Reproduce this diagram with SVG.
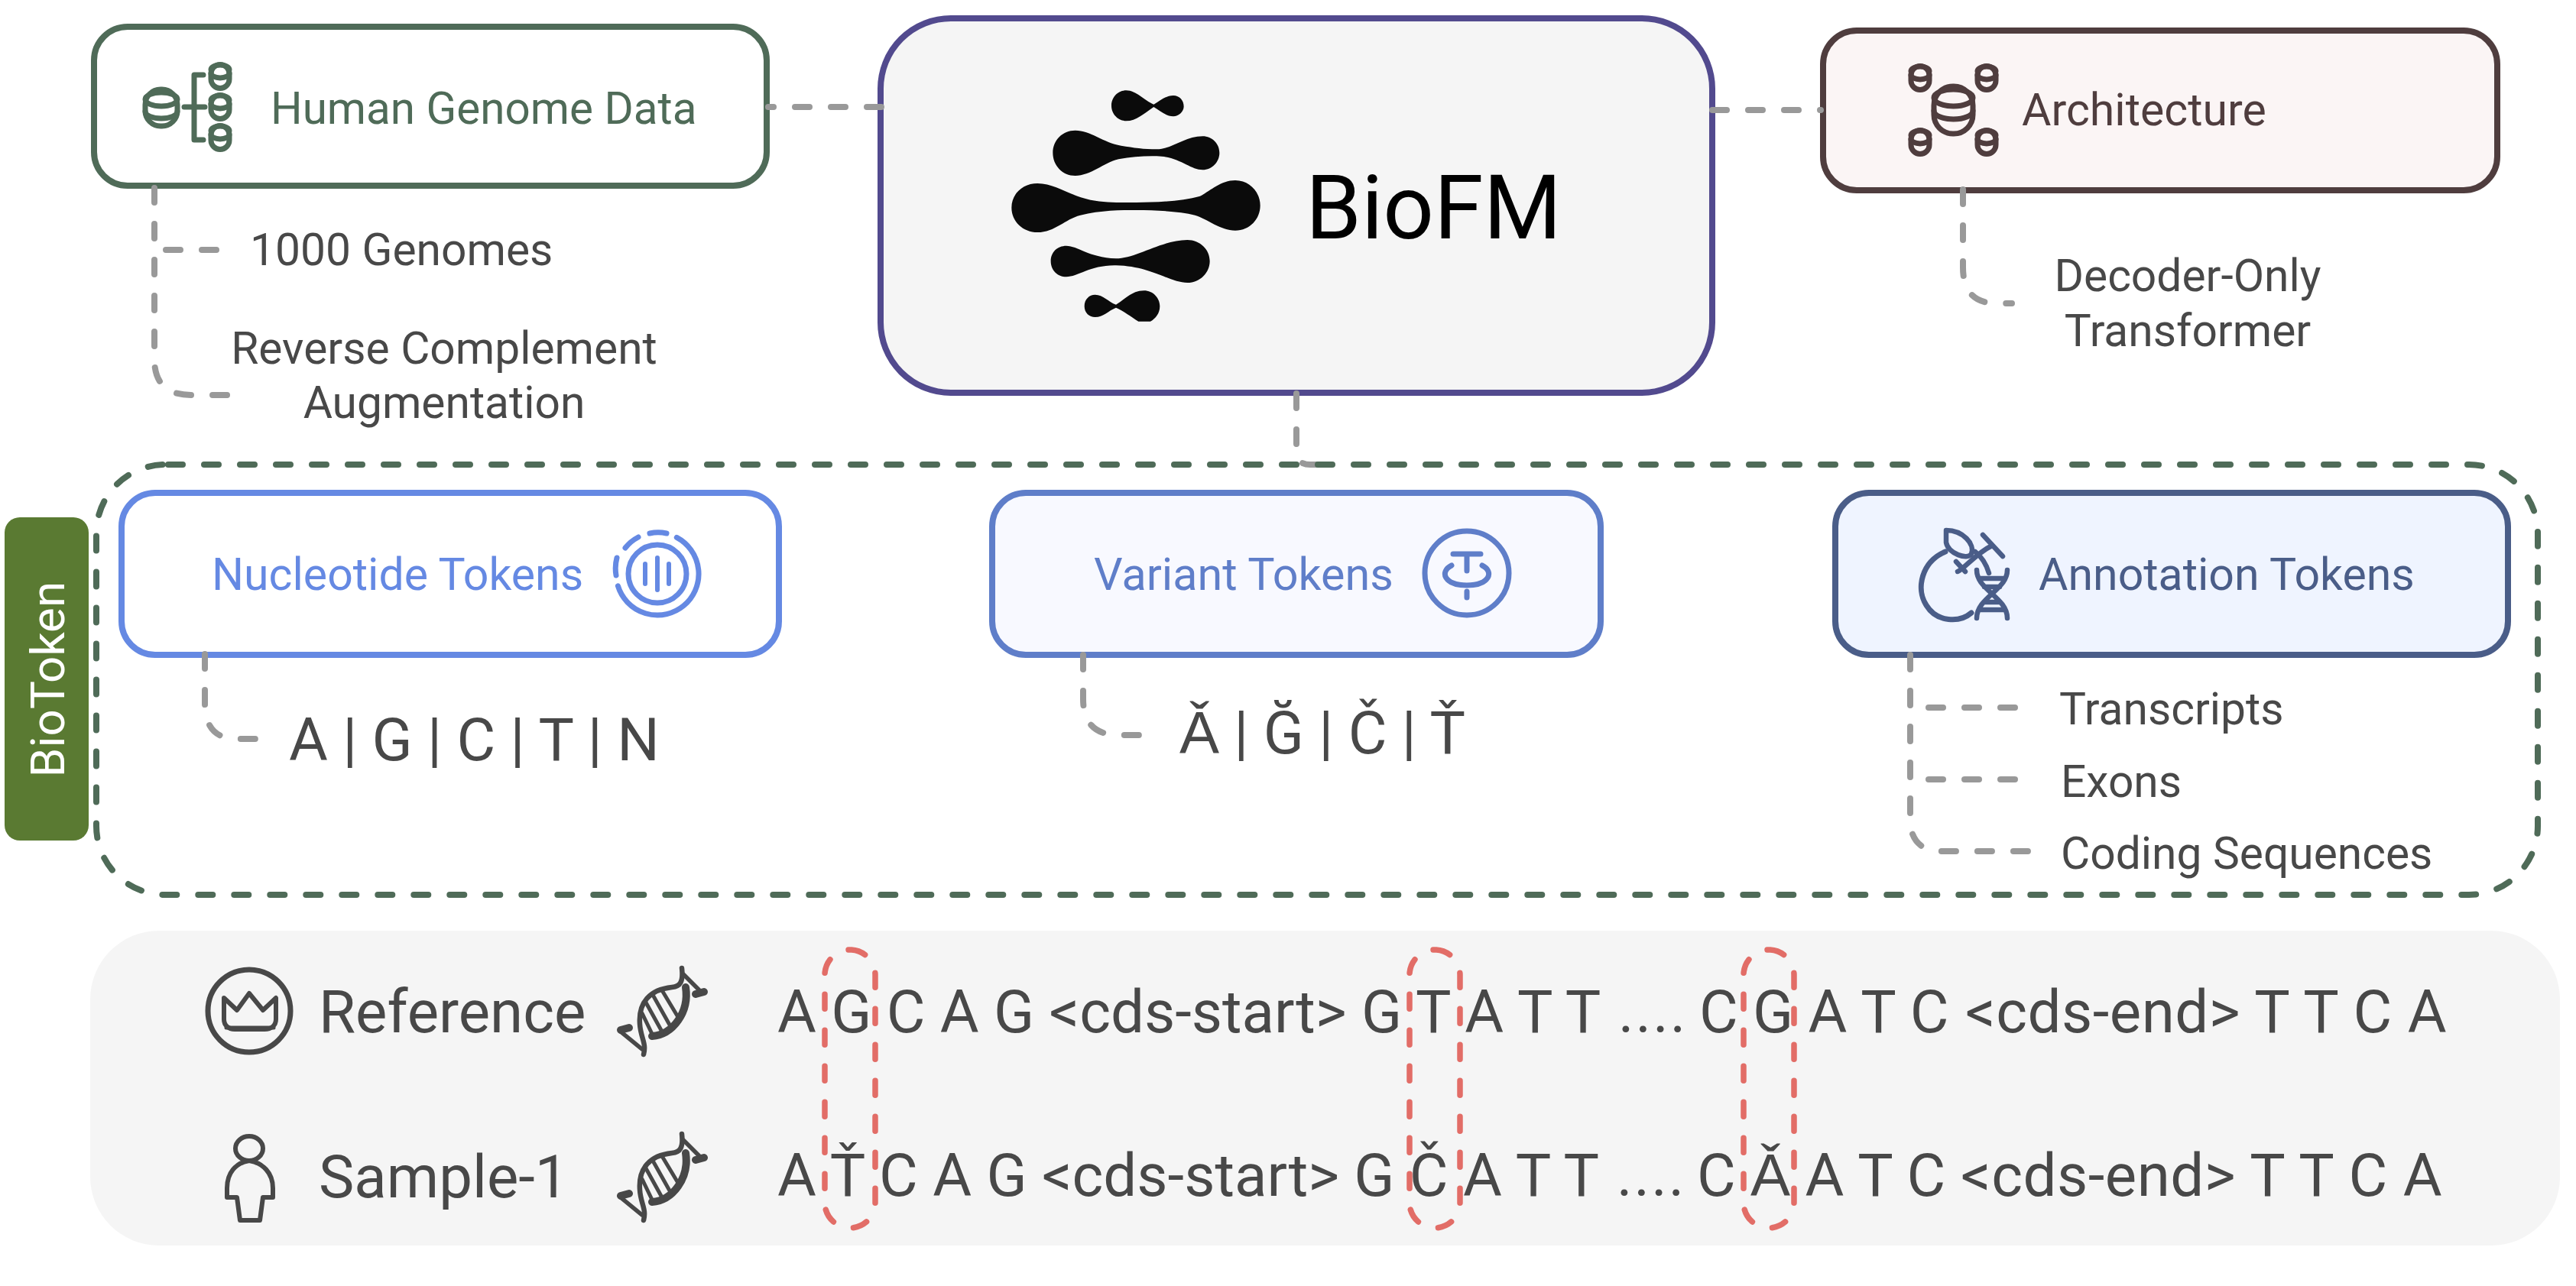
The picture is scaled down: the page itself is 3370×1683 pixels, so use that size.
<svg xmlns="http://www.w3.org/2000/svg" width="3370" height="1683" viewBox="0 0 3370 1683">
<style>
text{font-family:Roboto,"Liberation Sans",sans-serif;fill:#484848}
.t59{font-size:59px}.t587{font-size:58.7px}.t78{font-size:78px}
.box{stroke-width:8}
.dash{fill:none;stroke:#999;stroke-width:8;stroke-dasharray:19 28;stroke-linecap:round}
.gdash{fill:none;stroke:#4f6b58;stroke-width:8;stroke-dasharray:19 28;stroke-linecap:round}
.rdash{fill:none;stroke:#e26d67;stroke-width:7.5;stroke-dasharray:19 28;stroke-linecap:round}
.ic{fill:none;stroke-width:7;stroke-linecap:round;stroke-linejoin:round}
.ink{stroke:#484848}
</style>
<defs>
<g id="cyls"><rect x="-12" y="-15.5" width="24" height="31" rx="12"/><path d="M-12 -4A12 6 0 0 0 12 -4M-12 -9A12 6 0 0 1 12 -9"/></g>
<g id="dna" class="ic ink">
<path d="M892 1267C894 1285 890 1291 879 1292C850 1295 835 1312 837 1340C838 1358 846 1365 842 1380" style="stroke-width:6.5"/>
<path d="M897 1292C902 1325 880 1354 853 1356" style="stroke-width:10"/>
<path d="M894 1275L918 1299M812 1350L840 1373" style="stroke-width:5.5"/>
<path d="M910 1301L921 1298M812 1348L823 1345" style="stroke-width:10"/>
<path d="M866 1296L887 1331M854 1302L877 1343M845 1312L866 1350M840 1326L853 1353" style="stroke-width:5"/>
</g>
</defs>

<g id="node-human-genome">
<rect class="box" x="123" y="35" width="880" height="208" rx="44" fill="#fff" stroke="#4f6b58"/>
<g class="ic" stroke="#4f6b58">
<rect x="190" y="117" width="42" height="48" rx="20"/>
<path d="M190 130A21 9 0 0 0 232 130M190 146A21 9 0 0 0 232 146M190 130A21 9 0 0 1 232 130"/>
<path d="M266 98H254V183H266M241 140H268"/>
<use href="#cyls" x="288" y="100"/><use href="#cyls" x="288" y="140"/><use href="#cyls" x="288" y="180"/>
</g>
<text x="354" y="162" font-size="58.4" style="fill:#4f6b58">Human Genome Data</text>
<text class="t587" x="327" y="347">1000 Genomes</text>
<text class="t587" x="581" y="476" text-anchor="middle">Reverse Complement</text>
<text class="t587" x="581" y="547" text-anchor="middle">Augmentation</text>
</g>

<g id="node-biofm">
<rect class="box" x="1152" y="24" width="1088" height="490" rx="92" fill="#f5f5f5" stroke="#524a8e"/>
<g transform="translate(1280 90) scale(.33333)" fill="#0b0b0b">
<path d="M522 145C522 110 550 85 580 85C620 85 650 125 688 140C715 125 735 105 765 105C790 105 806 125 806 148C806 170 785 187 765 187C735 187 715 165 688 150C650 175 620 205 580 205C550 205 522 180 522 145Z"/>
<path d="M292 330C292 280 330 242 380 242C440 242 490 290 560 302C610 310 650 316 700 316C760 316 810 265 880 265C918 265 946 295 946 330C946 365 918 397 880 397C830 397 790 345 700 343C650 342 600 345 550 355C490 370 440 420 380 420C330 420 292 380 292 330Z"/>
<path d="M130 545C130 490 175 450 232 450C300 450 350 495 440 515C500 527 560 525 620 525C700 525 800 520 870 500C910 480 950 438 1008 438C1065 438 1106 485 1106 537C1106 590 1065 635 1008 635C950 635 900 590 850 575C790 560 700 555 620 555C560 555 480 555 400 575C340 590 300 642 232 642C175 642 130 600 130 545Z"/>
<path d="M284 755C284 720 310 695 345 695C390 695 430 740 540 745C620 745 720 672 820 672C870 672 908 710 908 755C908 800 870 840 820 840C750 840 680 775 540 772C440 770 390 817 345 817C310 817 284 790 284 755Z"/>
<path d="M416 932C416 905 435 887 458 887C490 887 510 915 540 926C570 910 600 871 650 871C685 871 712 900 712 932C712 960 695 980 675 992L628 992C600 975 570 950 540 938C510 950 490 975 458 975C435 975 416 958 416 932Z"/>
</g>
<text x="1708" y="312" font-size="117" style="fill:#000">BioFM</text>
</g>

<g id="node-architecture">
<rect class="box" x="2385" y="40" width="882" height="209" rx="44" fill="#fbf5f5" stroke="#4f3d3e"/>
<g class="ic" stroke="#4f3d3e">
<rect x="2530" y="113" width="51" height="62" rx="25"/>
<path d="M2530 128A25.500 11 0 0 0 2581 128M2530 145A25.500 11 0 0 0 2581 145M2530 128A25.500 11 0 0 1 2581 128"/>
<use href="#cyls" x="2512" y="102"/><use href="#cyls" x="2599" y="102"/><use href="#cyls" x="2512" y="186"/><use href="#cyls" x="2599" y="186"/>
</g>
<text class="t59" x="2645" y="164" style="fill:#4f3d3e">Architecture</text>
<text class="t587" x="2862" y="381" text-anchor="middle">Decoder-Only</text>
<text class="t587" x="2862" y="453" text-anchor="middle">Transformer</text>
</g>

<g id="node-biotoken-label">
<rect x="6" y="677" width="110" height="423" rx="20" fill="#5a7a32"/>
<text x="0" y="0" font-size="62" text-anchor="middle" transform="translate(84 889) rotate(-90)" style="fill:#fff">BioToken</text>
</g>

<g id="node-nucleotide">
<rect class="box" x="159" y="645" width="860" height="212" rx="44" fill="#fff" stroke="#6589e3"/>
<text class="t59" x="277" y="772" style="fill:#6589e3">Nucleotide Tokens</text>
<g class="ic" stroke="#6589e3">
<circle cx="860" cy="751" r="38"/>
<path d="M808.400 766.800A54 54 0 1 0 885.300 703.300M818 717A54 54 0 0 1 835 703M807 730A54 54 0 0 0 806 753M850 698A54 54 0 0 1 872 698"/>
<path d="M860 730V772M844 738V764M875 738V764" style="stroke-width:6"/>
</g>
<text class="t78" x="378" y="995">A | G | C | T | N</text>
</g>

<g id="node-variant">
<rect class="box" x="1298" y="645" width="796" height="212" rx="44" fill="#f8f9ff" stroke="#5f7ec9"/>
<text x="1431" y="772" font-size="59.300" style="fill:#5f7ec9">Variant Tokens</text>
<g class="ic" stroke="#5f7ec9" transform="translate(1919 750)">
<circle r="55"/>
<path d="M-18 -25H18M0 -25V-3M-20 -10C-36 -2 -30 16 0 16C30 16 36 -2 20 -10M0 24V32"/>
</g>
<text class="t78" x="1543" y="986">Ǎ | Ğ | Č | Ť</text>
</g>

<g id="node-annotation">
<rect class="box" x="2401" y="645" width="880" height="212" rx="44" fill="#eff4ff" stroke="#4a5d88"/>
<text class="t59" x="2667" y="772" style="fill:#4a5d88">Annotation Tokens</text>
<g class="ic" stroke="#4a5d88" transform="translate(-6 0)">
<path d="M2551 722C2520 735 2512 770 2526 792C2540 815 2570 815 2585 802"/>
<path d="M2552 694C2574 694 2590 712 2585 725C2580 733 2555 725 2552 710Z" style="stroke-width:6.500"/>
<path d="M2600 700L2626 728M2612 714C2590 725 2575 745 2567 748M2590 722C2600 730 2605 740 2608 750M2565 735L2577 748" style="stroke-width:6.500"/>
<path d="M2592 746C2592 772 2632 782 2632 809M2632 746C2632 772 2592 782 2592 809M2596 757H2628M2602 768H2622M2602 788H2622M2596 798H2628" style="stroke-width:6.500"/>
</g>
<text class="t587" x="2694" y="948">Transcripts</text>
<text class="t587" x="2696" y="1043">Exons</text>
<text class="t587" x="2696" y="1137">Coding Sequences</text>
</g>

<g id="node-sequences">
<rect x="118" y="1218" width="3231" height="412" rx="90" fill="#f5f5f5"/>
<g id="icon-crown" class="ic ink">
<circle cx="326" cy="1323" r="54"/>
<path d="M293 1306L310 1322L326 1300L344 1322L361 1306V1334C361 1342 355 1347 346 1347H307C299 1347 293 1342 293 1334Z" style="stroke-width:6"/>
<path d="M296 1345H358" style="stroke-width:5"/>
</g>
<text class="t78" x="417" y="1351">Reference</text>
<use href="#dna"/>
<text class="t78" x="1017" y="1351">A G C A G &lt;cds-start&gt; G T A T T <tspan x="2117" letter-spacing="2">....</tspan> <tspan x="2223">C G A T C</tspan> <tspan x="2571" letter-spacing=".5">&lt;cds-end&gt; T T C A</tspan></text>
<g id="icon-person" class="ic ink">
<ellipse cx="326" cy="1503" rx="18" ry="16" style="stroke-width:6"/>
<path d="M326 1519C308 1522 297 1535 297 1555V1567H310L314 1597H340L344 1567H357V1555C357 1535 344 1522 326 1519Z" style="stroke-width:6"/>
</g>
<text class="t78" x="417" y="1567">Sample-1</text>
<use href="#dna" y="217"/>
<text class="t78" x="1017" y="1565">A Ť C A G &lt;cds-start&gt; G Č A T T <tspan x="2115" letter-spacing="2">....</tspan> <tspan x="2220">C Ǎ A T C</tspan> <tspan x="2565" letter-spacing=".5">&lt;cds-end&gt; T T C A</tspan></text>
</g>

<g id="connectors">
<path class="dash" d="M202 246V470Q202 517 250 517H302"/>
<path class="dash" d="M217 327H284"/>
<path class="dash" stroke-dashoffset="12" d="M1005 140H1156"/>
<path class="dash" d="M2240 144H2382"/>
<path class="dash" d="M1696 515V590Q1696 608 1714 608H1730"/>
<path class="dash" d="M2568 248V350Q2568 397 2612 397H2632"/>
<path class="dash" d="M268 856V920Q268 967 310 967H336"/>
<path class="dash" d="M1417 857V915Q1417 962 1464 962H1495"/>
<path class="dash" d="M2499 857V1072Q2499 1114 2541 1114H2660"/>
<path class="dash" d="M2523 926H2640"/>
<path class="dash" d="M2523 1020H2640"/>
</g>

<g id="biotoken-group">
<path class="gdash" d="M220 608H3230A90 90 0 0 1 3320 698V1081A90 90 0 0 1 3230 1171H216A90 90 0 0 1 126 1081V698A90 90 0 0 1 216 608Z"/>
</g>

<g id="variant-highlights">
<path class="rdash" stroke-dashoffset="-2" d="M1112 1243A33 33 0 0 1 1145 1276V1574A33 33 0 0 1 1079 1574V1276A33 33 0 0 1 1112 1243Z"/>
<path class="rdash" stroke-dashoffset="-2" d="M1877 1243A33 33 0 0 1 1910 1276V1574A33 33 0 0 1 1844 1574V1276A33 33 0 0 1 1877 1243Z"/>
<path class="rdash" stroke-dashoffset="-2" d="M2314 1243A33 33 0 0 1 2347 1276V1574A33 33 0 0 1 2281 1574V1276A33 33 0 0 1 2314 1243Z"/>
</g>
</svg>
